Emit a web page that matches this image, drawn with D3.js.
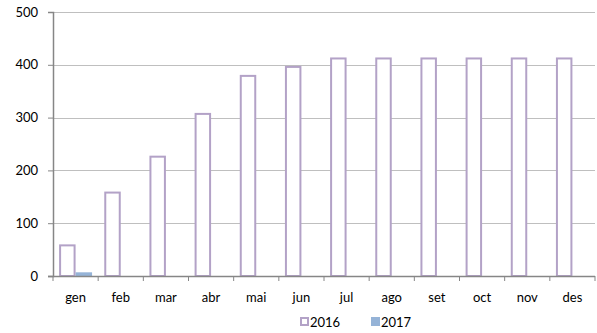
<!DOCTYPE html>
<html>
<head>
<meta charset="utf-8">
<script src="https://cdn.jsdelivr.net/npm/d3@7"></script>
<style>
  body { margin: 0; background: #fff; }
  svg text { font-family: Lato, "Open Sans", sans-serif; fill: #000; }
</style>
</head>
<body>
<svg id="chart" width="597" height="333"></svg>
<script>
// Monthly totals
const months = ["gen", "feb", "mar", "abr", "mai", "jun", "jul", "ago", "set", "oct", "nov", "des"];
const values2016 = [58, 158, 226, 307, 379, 396, 412, 412, 412, 412, 412, 412];
const values2017 = [7, null, null, null, null, null, null, null, null, null, null, null];
const seriesNames = ["2016", "2017"];
const yTicks = [0, 100, 200, 300, 400, 500];

const svg = d3.select("#chart");
const margin = { left: 53, right: 2, top: 12, bottom: 57 };
const W = 597, H = 333;
const innerW = W - margin.left - margin.right;
const innerH = H - margin.top - margin.bottom;

const g = svg.append("g").attr("transform", `translate(${margin.left},${margin.top})`);

const x = d3.scaleBand().domain(months).range([0, innerW]).paddingInner(0.27).paddingOuter(0.135);
const xs = d3.scaleBand().domain(seriesNames).range([0, x.bandwidth()]);
const y = d3.scaleLinear().domain([0, 500]).range([innerH, 0]);

// gridlines
g.append("g").selectAll("line").data(yTicks.filter(d => d > 0)).join("line")
  .attr("x1", 0).attr("x2", innerW)
  .attr("y1", d => Math.round(y(d)) + 0.5).attr("y2", d => Math.round(y(d)) + 0.5)
  .attr("stroke", "#bfbfbf").attr("stroke-width", 1);

const series = [
  { name: "2016", vals: values2016, fill: "#ffffff", stroke: "#b3a2c7" },
  { name: "2017", vals: values2017, fill: "#95b3d7", stroke: "none" }
];

series.forEach(s => {
  const data = months.map((m, i) => ({ m, v: s.vals[i] })).filter(d => d.v != null);
  g.append("g").selectAll("rect").data(data).join("rect")
    .attr("x", d => x(d.m) + xs(s.name) + (s.stroke !== "none" ? 1 : 0))
    .attr("width", xs.bandwidth() - (s.stroke !== "none" ? 2 : 0))
    .attr("y", d => y(d.v))
    .attr("height", d => y(0) - y(d.v))
    .attr("fill", s.fill)
    .attr("stroke", s.stroke)
    .attr("stroke-width", 2);
});

// y axis
const yAxis = g.append("g").call(d3.axisLeft(y).tickValues(yTicks).tickSize(5).tickPadding(10).tickFormat(d3.format("d")));
yAxis.select(".domain").attr("stroke", "#868686").attr("stroke-width", 1.5);
yAxis.selectAll(".tick line").attr("stroke", "#868686");
yAxis.selectAll("text").style("font-size", "13px");

// x axis
const xAxis = g.append("g").attr("transform", `translate(0,${innerH})`);
xAxis.append("line").attr("x1", -5).attr("x2", innerW).attr("y1", 0.5).attr("y2", 0.5)
  .attr("stroke", "#868686").attr("stroke-width", 1.5);
const boundaries = d3.range(months.length + 1).map(i => i * x.step());
xAxis.selectAll("line.tk").data(boundaries).join("line").attr("class", "tk")
  .attr("x1", d => d).attr("x2", d => d).attr("y1", 0).attr("y2", 5)
  .attr("stroke", "#868686");
xAxis.selectAll("text").data(months).join("text")
  .attr("x", d => x(d) + x.bandwidth() / 2)
  .attr("y", 26)
  .attr("text-anchor", "middle")
  .style("font-size", "13px")
  .text(d => d);

// legend
const legend = svg.append("g").attr("transform", "translate(300,317)");
const legItems = [
  { name: "2016", x: 0, fill: "#ffffff", stroke: "#b3a2c7" },
  { name: "2017", x: 71, fill: "#95b3d7", stroke: "none" }
];
legItems.forEach(it => {
  legend.append("rect")
    .attr("x", it.x + (it.stroke !== "none" ? 1 : 0)).attr("y", it.stroke !== "none" ? 1 : 0)
    .attr("width", it.stroke !== "none" ? 7 : 9).attr("height", it.stroke !== "none" ? 7 : 9)
    .attr("fill", it.fill).attr("stroke", it.stroke).attr("stroke-width", 2);
  legend.append("text").attr("x", it.x + 10).attr("y", 9.5)
    .style("font-size", "13px").text(it.name);
});
</script>
</body>
</html>
